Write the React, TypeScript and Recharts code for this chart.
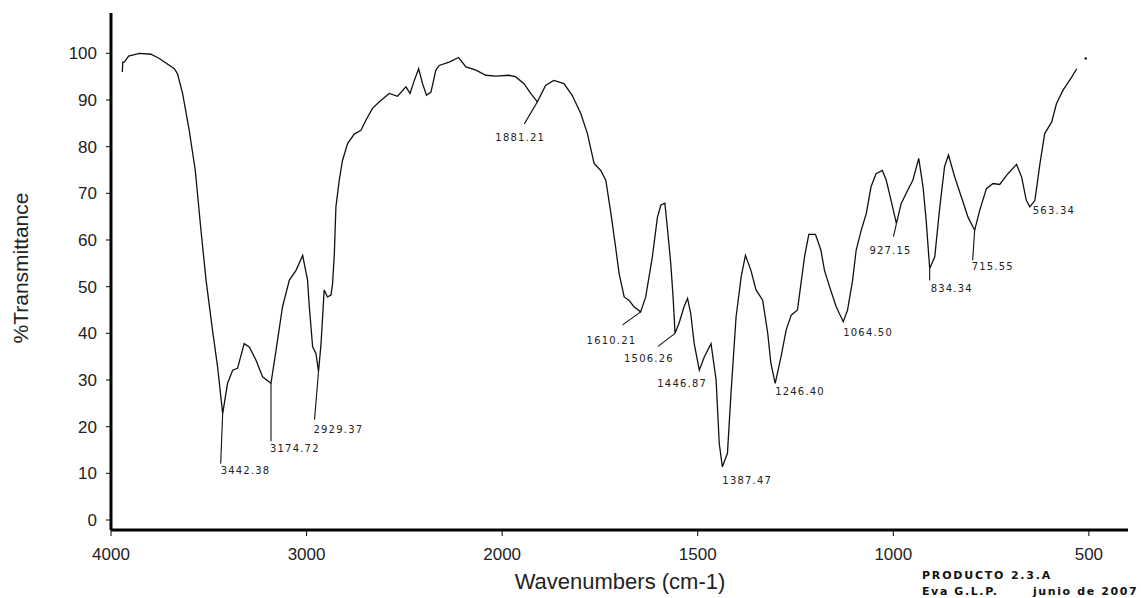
import React from "react";
import { ComposedChart, Line, XAxis, YAxis } from "recharts";

// ---- data ----
const CURVE_WN = [
  3942, 3940, 3932, 3910, 3855, 3796, 3753, 3676, 3660, 3634, 3600, 3569, 3540, 3514, 3481, 3455,
  3429, 3404, 3378, 3353, 3319, 3293, 3259, 3225, 3182, 3156, 3123, 3088, 3054, 3020, 2995, 2986,
  2969, 2952, 2939, 2926, 2910, 2893, 2875, 2867, 2858, 2850, 2833, 2816, 2790, 2756, 2722, 2696,
  2663, 2628, 2577, 2535, 2492, 2471, 2449, 2427, 2407, 2387, 2364, 2339, 2322, 2271, 2223, 2185,
  2134, 2083, 2032, 1983, 1966, 1944, 1927, 1910, 1889, 1868, 1842, 1821, 1799, 1782, 1765, 1748,
  1735, 1722, 1710, 1701, 1688, 1676, 1663, 1646, 1633, 1616, 1603, 1594, 1584, 1577, 1569, 1563,
  1558, 1548, 1535, 1526, 1518, 1509, 1496, 1483, 1466, 1453, 1445, 1437, 1424, 1415, 1402, 1389,
  1378, 1364, 1351, 1334, 1321, 1313, 1302, 1287, 1274, 1261, 1245, 1236, 1227, 1216, 1199, 1185,
  1176, 1163, 1146, 1128, 1117, 1104, 1095, 1082, 1069, 1057, 1044, 1028, 1018, 1010, 992, 980,
  963, 950, 935, 924, 916, 907, 894, 882, 869, 859, 843, 826, 809, 792, 779, 762,
  745, 728, 707, 685, 672, 660, 651, 638, 625, 613, 595, 583, 566, 544, 531,
];
const CURVE_T = [
  96.0, 98.1, 98.1, 99.4, 100.0, 99.8, 98.9, 96.7, 95.6, 91.4, 83.5, 74.9, 62.1, 51.4, 40.7, 32.8,
  22.8, 29.3, 32.1, 32.5, 37.8, 37.1, 34.3, 30.7, 29.3, 36.4, 45.7, 51.4, 53.5, 56.7, 51.4, 45.7,
  37.1, 35.7, 31.8, 37.8, 49.3, 47.8, 48.2, 50.7, 57.1, 67.1, 72.8, 77.1, 80.7, 82.7, 83.5, 85.7,
  88.2, 89.6, 91.4, 90.8, 92.8, 91.4, 94.2, 96.7, 93.5, 91.0, 91.7, 96.4, 97.4, 98.1, 99.1, 97.1,
  96.4, 95.3, 95.1, 95.3, 95.0, 93.5, 91.4, 89.6, 93.1, 94.2, 93.5, 91.0, 87.1, 82.8, 76.4, 74.9,
  72.8, 65.7, 58.5, 52.8, 47.8, 47.1, 45.7, 44.6, 47.8, 56.4, 64.9, 67.5, 67.9, 62.1, 55.0, 47.8,
  40.0, 42.1, 45.7, 47.5, 44.3, 37.8, 32.1, 35.0, 37.8, 30.0, 16.4, 11.4, 14.3, 27.1, 43.5, 52.1,
  56.7, 53.5, 49.3, 47.1, 40.0, 33.6, 29.3, 35.0, 40.7, 43.9, 45.0, 50.7, 56.4, 61.2, 61.2, 57.8,
  53.5, 50.0, 45.7, 42.5, 45.0, 51.4, 57.8, 62.1, 65.7, 71.4, 74.2, 74.9, 72.8, 70.0, 63.5, 67.8,
  70.7, 72.8, 77.5, 71.4, 64.2, 53.9, 56.4, 66.4, 75.7, 78.2, 73.5, 69.2, 64.9, 62.1, 66.4, 71.0,
  72.1, 71.9, 74.2, 76.2, 73.5, 68.5, 67.1, 68.5, 76.4, 82.8, 85.3, 89.2, 92.1, 94.9, 96.7,
];

const PEAK_LABELS = [
  "3442.38", "3174.72", "2929.37", "1881.21", "1610.21", "1506.26", "1446.87",
  "1387.47", "1246.40", "1064.50", "927.15", "834.34", "715.55", "563.34",
];
const PEAK_WN = [3429, 3182, 2939, 1910, 1646, 1558, 1496, 1437, 1302, 1128, 992, 907, 792, 651];
const PEAK_T = [22.8, 29.3, 31.8, 89.6, 44.6, 40.0, 32.1, 11.4, 29.3, 42.5, 63.5, 53.9, 62.1, 67.1];

const STRAY_WN = [508];
const STRAY_T = [98.9];

const X_TICK_LABELS = [4000, 3000, 2000, 1500, 1000, 500];
const Y_TICKS = [0, 10, 20, 30, 40, 50, 60, 70, 80, 90, 100];

// label placement (pixel offsets from the peak): leader end, text start
const LABEL_LAYOUT: { leader?: [number, number]; text: [number, number] }[] = [
  { leader: [-2, 50], text: [-2, 57] },
  { leader: [0, 58], text: [-1, 66] },
  { leader: [-4, 48], text: [-5, 58] },
  { leader: [-13, 22], text: [-42, 36] },
  { leader: [-18, 13], text: [-54, 29] },
  { leader: [-17, 13], text: [-51, 26] },
  { text: [-42, 14] },
  { text: [0, 14] },
  { text: [0, 9] },
  { text: [0, 11] },
  { leader: [-3, 13], text: [-27, 27] },
  { leader: [0, 12], text: [1, 21] },
  { leader: [-2, 30], text: [-3, 37] },
  { text: [3, 4] },
];

// spectrometer axis: 1000 cm-1 per unit above 2000, 500 cm-1 per unit below
const toAxis = (wn: number) => (wn >= 2000 ? (4000 - wn) / 1000 : 2 + (2000 - wn) / 500);

const curve = CURVE_WN.map((w, i) => ({ t: toAxis(w), T: CURVE_T[i] }));
const peaks = PEAK_WN.map((w, i) => ({ t: toAxis(w), T: PEAK_T[i] }));
const stray = STRAY_WN.map((w, i) => ({ t: toAxis(w), T: STRAY_T[i] }));
const xTicks = X_TICK_LABELS.map(toAxis);

const SANS = "'Liberation Sans', Arial, sans-serif";

function PeakMark(props: any) {
  const { cx, cy, index } = props;
  if (cx == null || cy == null) return null;
  const L = LABEL_LAYOUT[index];
  return (
    <g key={`peak-${index}`}>
      {L.leader && (
        <line
          x1={cx}
          y1={cy}
          x2={cx + L.leader[0]}
          y2={cy + L.leader[1]}
          stroke="#111"
          strokeWidth={1.1}
        />
      )}
      <text
        x={cx + L.text[0]}
        y={cy + L.text[1]}
        dominantBaseline="middle"
        fontFamily="'DejaVu Sans', sans-serif"
        fontSize={10}
        letterSpacing={1.2}
        fill="#222"
      >
        {PEAK_LABELS[index]}
      </text>
    </g>
  );
}

const footStyle: React.CSSProperties = {
  position: "absolute",
  fontFamily: "'DejaVu Sans', sans-serif",
  fontWeight: "bold",
  fontSize: 11,
  lineHeight: "13px",
  color: "#111",
  whiteSpace: "pre",
};

export default function App() {
  return (
    <div
      style={{
        position: "absolute",
        left: 0,
        top: 0,
        width: 1141,
        height: 598,
        background: "#fff",
      }}
    >
      <ComposedChart
        width={1141}
        height={598}
        margin={{ top: 13, right: 13, bottom: 0, left: 11 }}
      >
        <XAxis
          type="number"
          dataKey="t"
          domain={[0, 5.2]}
          ticks={xTicks}
          tickFormatter={(v: number) => String(X_TICK_LABELS[xTicks.indexOf(v)] ?? "")}
          height={68}
          axisLine={{ stroke: "#000", strokeWidth: 3 }}
          tickLine={{ stroke: "#000" }}
          tickSize={6}
          tickMargin={12}
          tick={{ fill: "#222", fontSize: 17, fontFamily: SANS }}
          allowDataOverflow
          label={{
            content: () => (
              <text
                x={620}
                y={583}
                textAnchor="middle"
                dominantBaseline="middle"
                fontFamily={SANS}
                fontSize={22}
                fill="#222"
              >
                Wavenumbers (cm-1)
              </text>
            ),
          }}
        />
        <YAxis
          type="number"
          dataKey="T"
          domain={[-2.14, 108.64]}
          ticks={Y_TICKS}
          width={100}
          axisLine={{ stroke: "#000", strokeWidth: 3 }}
          tickLine={{ stroke: "#000" }}
          tickSize={5}
          tickMargin={9}
          tick={{ fill: "#222", fontSize: 17, fontFamily: SANS }}
          allowDataOverflow
          label={{
            content: () => (
              <text
                x={22}
                y={268}
                textAnchor="middle"
                dominantBaseline="middle"
                transform="rotate(-90 22 268)"
                fontFamily={SANS}
                fontSize={21}
                fill="#222"
              >
                %Transmittance
              </text>
            ),
          }}
        />
        <Line
          data={curve}
          dataKey="T"
          type="linear"
          stroke="#111"
          strokeWidth={1.3}
          dot={false}
          activeDot={false}
          isAnimationActive={false}
        />
        <Line
          data={peaks}
          dataKey="T"
          stroke="none"
          dot={(p: any) => <PeakMark {...p} />}
          activeDot={false}
          isAnimationActive={false}
        />
        <Line
          data={stray}
          dataKey="T"
          stroke="none"
          dot={{ r: 1.2, fill: "#111", stroke: "none" }}
          activeDot={false}
          isAnimationActive={false}
        />
      </ComposedChart>
      <div style={{ ...footStyle, left: 922, top: 569, letterSpacing: 1.8 }}>PRODUCTO 2.3.A</div>
      <div style={{ ...footStyle, left: 922, top: 585, letterSpacing: 1.6 }}>Eva G.L.P.</div>
      <div style={{ ...footStyle, left: 1033, top: 585, letterSpacing: 1.6 }}>junio de 2007</div>
    </div>
  );
}
